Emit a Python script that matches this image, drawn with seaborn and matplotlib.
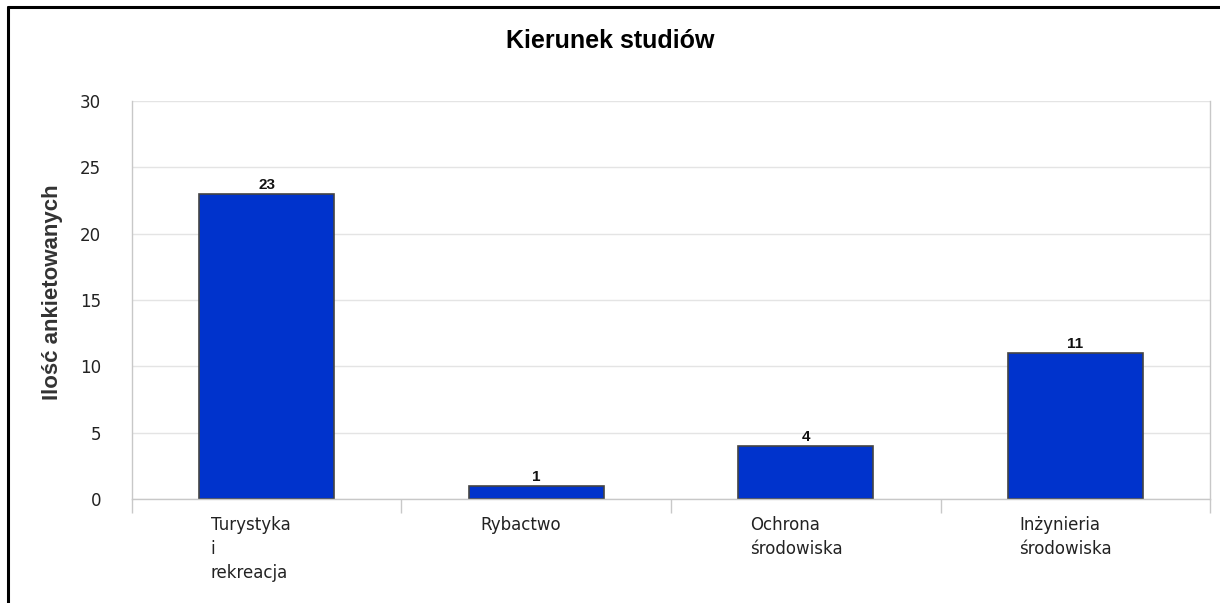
import matplotlib
matplotlib.use("Agg")
import matplotlib.pyplot as plt
import matplotlib.transforms as mtransforms
from matplotlib.lines import Line2D
import seaborn as sns
import pandas as pd

categories = ["Turystyka\ni\nrekreacja", "Rybactwo", "Ochrona\nśrodowiska", "Inżynieria\nśrodowiska"]
counts = [23, 1, 4, 11]
y_ticks = [0, 5, 10, 15, 20, 25, 30]

df = pd.DataFrame({"kierunek": categories, "ilosc": counts})

sns.set_style("white")
plt.rcParams['font.family'] = ['DejaVu Sans']

fig = plt.figure(figsize=(12.2, 6.03), dpi=100)
ax = fig.add_axes([0.108, 0.1725, 0.884, 0.66])

sns.barplot(data=df, x="kierunek", y="ilosc", color="#0033cc", width=0.5,
            edgecolor="#444444", linewidth=1.2, saturation=1, ax=ax)

ax.set_ylim(0, 30)
ax.set_xlim(-0.5, len(categories) - 0.5)
ax.set_yticks(y_ticks)
ax.yaxis.grid(True, color="#e4e4e4", linewidth=1)
ax.set_axisbelow(True)

for i, v in enumerate(counts):
    ax.text(i, v + 0.15, str(v), ha="center", va="bottom", fontsize=11, fontweight="semibold",
            family=["Liberation Sans", "DejaVu Sans"], color="#111111")

for side in ["left", "bottom", "right"]:
    ax.spines[side].set_color("#c8c8c8")
    ax.spines[side].set_linewidth(1)
ax.spines["top"].set_visible(False)

# category boundary ticks below the axis
ax.set_xticks(range(len(categories)))
ax.set_xticks([i - 0.5 for i in range(len(categories) + 1)], minor=True)
ax.tick_params(axis="x", which="minor", bottom=True, length=10, color="#c8c8c8", width=1, direction="out")
ax.tick_params(axis="x", which="major", bottom=False, length=0, pad=12)
ax.tick_params(axis="y", length=0, pad=22, labelsize=12, labelcolor="#222222")

ax.set_xticklabels(categories, fontsize=12, ha="left", va="top", linespacing=1.45, color="#222222")
offset = mtransforms.ScaledTranslation(-0.56, 0, fig.dpi_scale_trans)
for lbl in ax.get_xticklabels():
    lbl.set_transform(lbl.get_transform() + offset)

ax.set_xlabel("")
ax.set_ylabel("Ilość ankietowanych", fontsize=16, fontweight="bold", color="#333333",
              family=["Liberation Sans", "DejaVu Sans"])
ax.yaxis.set_label_coords(-0.064, 0.52)

fig.text(0.5, 0.932, "Kierunek studiów", ha="center", va="center", fontsize=18, fontweight="bold",
         family=["Liberation Sans", "DejaVu Sans"], color="#000000")

# outer frame lines (left and top)
fig.add_artist(Line2D([8 / 1220, 8 / 1220], [0, 1 - 7 / 603], color="black", linewidth=2.2, transform=fig.transFigure))
fig.add_artist(Line2D([8 / 1220, 1], [1 - 7 / 603, 1 - 7 / 603], color="black", linewidth=2.2, transform=fig.transFigure))

fig.savefig("out.png", dpi=100)
